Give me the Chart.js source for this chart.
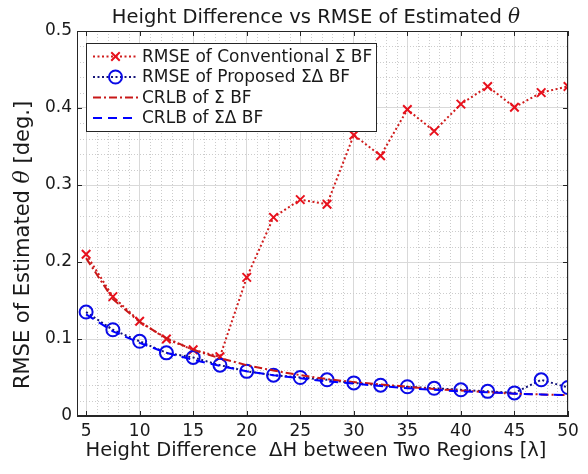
<!DOCTYPE html>
<html>
<head>
<meta charset="utf-8">
<script src="https://cdn.jsdelivr.net/npm/chart.js@4.4.1/dist/chart.umd.min.js"></script>
<style>
  html, body { margin: 0; padding: 0; background: #fff; }
</style>
</head>
<body>
<canvas id="heightChart" width="588" height="474"></canvas>
<script>
// height difference (in wavelengths) and the four curves
const heightDiff = [5, 7.5, 10, 12.5, 15, 17.5, 20, 22.5, 25, 27.5, 30, 32.5, 35, 37.5, 40, 42.5, 45, 47.5, 50];
const rmseConventional = [0.210, 0.155, 0.123, 0.100, 0.086, 0.077, 0.180, 0.258, 0.281, 0.275, 0.365, 0.338, 0.398, 0.370, 0.405, 0.428, 0.401, 0.420, 0.428];
const rmseProposed = [0.135, 0.112, 0.097, 0.082, 0.076, 0.066, 0.058, 0.053, 0.050, 0.047, 0.043, 0.040, 0.038, 0.036, 0.034, 0.032, 0.030, 0.047, 0.037];
const crlbSum = [0.205, 0.152, 0.122, 0.101, 0.086, 0.075, 0.066, 0.059, 0.053, 0.048, 0.044, 0.041, 0.038, 0.035, 0.033, 0.031, 0.029, 0.028, 0.027];
const crlbSumDiff = [0.132, 0.110, 0.095, 0.082, 0.073, 0.065, 0.058, 0.053, 0.049, 0.045, 0.042, 0.039, 0.036, 0.034, 0.032, 0.031, 0.029, 0.028, 0.027];

const xTicks = [5, 10, 15, 20, 25, 30, 35, 40, 45, 50];
const yTicks = [0, 0.1, 0.2, 0.3, 0.4, 0.5];
const xMinorStep = 1;
const yMinorStep = 0.02;

const FONT = '"DejaVu Sans", Verdana, sans-serif';
const SERIF = '"DejaVu Serif", "Liberation Serif", serif';
const AXIS_COLOR = '#262626';
const TEXT_COLOR = '#1a1a1a';

function points(ys) {
    return heightDiff.map((x, i) => ({ x: x, y: ys[i] }));
}

// draws a run of text pieces with their own fonts, centred on cx
function drawRuns(ctx, runs, cx, y) {
    let total = 0;
    runs.forEach(r => { ctx.font = r.font; total += ctx.measureText(r.text).width; });
    let x = cx - total / 2;
    ctx.textAlign = 'left';
    runs.forEach(r => {
        ctx.font = r.font;
        ctx.fillText(r.text, x, y);
        x += ctx.measureText(r.text).width;
    });
}

const decorations = {
    id: 'decorations',
    beforeDatasetsDraw(chart) {
        const { ctx, chartArea: a, scales } = chart;
        ctx.save();
        ctx.strokeStyle = '#cccccc';
        ctx.lineWidth = 1;
        ctx.setLineDash([1, 2]);
        ctx.beginPath();
        for (let v = Math.ceil(scales.x.min); v < scales.x.max; v += xMinorStep) {
            if (v % 5 === 0) continue;
            const px = Math.round(scales.x.getPixelForValue(v)) + 0.5;
            ctx.moveTo(px, a.top); ctx.lineTo(px, a.bottom);
        }
        for (let k = 1; k < 25; k++) {
            if (k % 5 === 0) continue;
            const py = Math.round(scales.y.getPixelForValue(k * yMinorStep)) + 0.5;
            ctx.moveTo(a.left, py); ctx.lineTo(a.right, py);
        }
        ctx.stroke();
        ctx.restore();
    },
    afterDatasetsDraw(chart) {
        const { ctx, chartArea: a, scales } = chart;
        ctx.save();
        ctx.strokeStyle = AXIS_COLOR;
        ctx.lineWidth = 1;
        ctx.strokeRect(a.left + 0.5, a.top + 0.5, a.right - a.left - 1, a.bottom - a.top - 1);
        // inward tick marks on all four sides
        ctx.beginPath();
        xTicks.forEach(v => {
            const px = Math.round(scales.x.getPixelForValue(v)) + 0.5;
            ctx.moveTo(px, a.bottom); ctx.lineTo(px, a.bottom - 5);
            ctx.moveTo(px, a.top); ctx.lineTo(px, a.top + 5);
        });
        yTicks.forEach(v => {
            const py = Math.round(scales.y.getPixelForValue(v)) + 0.5;
            ctx.moveTo(a.left, py); ctx.lineTo(a.left + 5, py);
            ctx.moveTo(a.right, py); ctx.lineTo(a.right - 5, py);
        });
        ctx.stroke();
        ctx.restore();
    },
    afterDraw(chart, args, opts) {
        const ctx = chart.ctx;
        ctx.save();
        ctx.fillStyle = TEXT_COLOR;
        ctx.textBaseline = 'alphabetic';

        drawRuns(ctx, [
            { text: 'Height Difference vs RMSE of Estimated ', font: '19.5px ' + FONT },
            { text: 'θ', font: 'italic 20px ' + SERIF }
        ], opts.titleX, opts.titleY);

        drawRuns(ctx, [
            { text: 'Height Difference  ΔH between Two Regions [λ]', font: '19.5px ' + FONT }
        ], opts.titleX, opts.xLabelY);

        ctx.save();
        ctx.translate(opts.yLabelX, opts.yLabelY);
        ctx.rotate(-Math.PI / 2);
        drawRuns(ctx, [
            { text: 'RMSE of Estimated ', font: '21px ' + FONT },
            { text: 'θ', font: 'italic 22px ' + SERIF },
            { text: ' [deg.]', font: '21px ' + FONT }
        ], 0, 0);
        ctx.restore();

        // legend box
        const L = opts.legend;
        ctx.fillStyle = '#ffffff';
        ctx.fillRect(L.left, L.top, L.width, L.height);
        ctx.strokeStyle = AXIS_COLOR;
        ctx.lineWidth = 1;
        ctx.strokeRect(L.left + 0.5, L.top + 0.5, L.width, L.height);
        chart.data.datasets.forEach((ds, i) => {
            const y = L.top + L.firstRow + i * L.rowGap;
            ctx.save();
            ctx.strokeStyle = ds.borderColor;
            ctx.lineWidth = ds.borderWidth;
            ctx.setLineDash(ds.borderDash || []);
            ctx.beginPath();
            ctx.moveTo(L.left + L.lineStart, y);
            ctx.lineTo(L.left + L.lineEnd, y);
            ctx.stroke();
            ctx.setLineDash([]);
            if (ds.pointRadius > 0) {
                ctx.strokeStyle = ds.pointBorderColor;
                ctx.fillStyle = 'rgba(0,0,0,0)';
                ctx.lineWidth = ds.pointBorderWidth;
                Chart.helpers.drawPoint(ctx, {
                    pointStyle: ds.pointStyle, radius: ds.pointRadius,
                    borderWidth: ds.pointBorderWidth, rotation: 0
                }, L.left + (L.lineStart + L.lineEnd) / 2, y);
            }
            ctx.restore();
            ctx.fillStyle = TEXT_COLOR;
            ctx.font = '17px ' + FONT;
            ctx.textAlign = 'left';
            ctx.textBaseline = 'middle';
            ctx.fillText(ds.label, L.left + L.textStart, y + 1);
        });
        ctx.restore();
    }
};

new Chart(document.getElementById('heightChart'), {
    type: 'line',
    data: {
        datasets: [{
            label: 'RMSE of Conventional Σ BF',
            data: points(rmseConventional),
            borderColor: '#d01c1c',
            borderWidth: 2,
            borderDash: [2, 2.5],
            pointStyle: 'crossRot',
            pointRadius: 6,
            pointBorderColor: '#e8101c',
            pointBorderWidth: 2,
            pointBackgroundColor: 'rgba(0,0,0,0)',
            order: 4
        }, {
            label: 'RMSE of Proposed ΣΔ BF',
            data: points(rmseProposed),
            borderColor: '#14147a',
            borderWidth: 2,
            borderDash: [2, 2.5],
            pointStyle: 'circle',
            pointRadius: 6.5,
            pointBorderColor: '#0a0ae6',
            pointBorderWidth: 2,
            pointBackgroundColor: 'rgba(0,0,0,0)',
            order: 3
        }, {
            label: 'CRLB of Σ BF',
            data: points(crlbSum),
            borderColor: '#c81818',
            borderWidth: 2,
            borderDash: [8, 3, 2, 3],
            pointRadius: 0,
            order: 2
        }, {
            label: 'CRLB of ΣΔ BF',
            data: points(crlbSumDiff),
            borderColor: '#0000ff',
            borderWidth: 2,
            borderDash: [9, 6],
            pointRadius: 0,
            order: 1
        }]
    },
    options: {
        responsive: false,
        animation: false,
        layout: { padding: { top: 31, right: 20, left: 0, bottom: 0 } },
        scales: {
            x: {
                type: 'linear',
                min: 4.15,
                max: 50,
                grid: { color: '#d9d9d9', drawTicks: false },
                border: { color: AXIS_COLOR },
                ticks: { color: TEXT_COLOR, font: { family: FONT, size: 17 }, padding: 5, maxRotation: 0 },
                afterBuildTicks: s => { s.ticks = xTicks.map(v => ({ value: v })); },
                afterFit: s => { s.height = 58; }
            },
            y: {
                min: 0,
                max: 0.5,
                grid: { color: '#d9d9d9', drawTicks: false },
                border: { color: AXIS_COLOR },
                ticks: {
                    color: TEXT_COLOR, font: { family: FONT, size: 17 }, padding: 5,
                    callback: v => (v === 0 ? '0' : v.toFixed(1))
                },
                afterBuildTicks: s => { s.ticks = yTicks.map(v => ({ value: v })); },
                afterFit: s => { s.width = 77; }
            }
        },
        plugins: {
            legend: { display: false },
            tooltip: { enabled: false },
            decorations: {
                titleX: 316, titleY: 23, xLabelY: 456,
                yLabelX: 29, yLabelY: 245,
                legend: {
                    left: 86, top: 43, width: 290, height: 88,
                    firstRow: 13.5, rowGap: 20.5,
                    lineStart: 7, lineEnd: 52, textStart: 56
                }
            }
        }
    },
    plugins: [decorations]
});
</script>
</body>
</html>
